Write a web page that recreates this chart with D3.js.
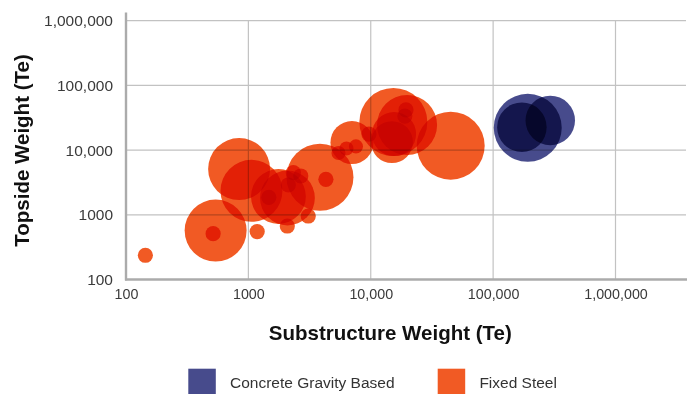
<!DOCTYPE html>
<html>
<head>
<meta charset="utf-8">
<script src="https://cdn.jsdelivr.net/npm/d3@7"></script>
<style>
  html, body { margin: 0; padding: 0; background: #fff; }
  svg { display: block; font-family: "Liberation Sans", Arial, Helvetica, sans-serif; }
  .bubble { mix-blend-mode: multiply; }
</style>
</head>
<body>
<svg id="chart" width="687" height="394"></svg>
<script>
// Axis ticks (log scale, one per decade)
const xTicks = [100, 1000, 10000, 100000, 1000000];
const xTickLabels = ["100", "1000", "10,000", "100,000", "1,000,000"];
const yTicks = [100, 1000, 10000, 100000, 1000000];
const yTickLabels = ["100", "1000", "10,000", "100,000", "1,000,000"];

// Series names
const seriesNames = ["Concrete Gravity Based", "Fixed Steel"];

// Concrete Gravity Based platforms: substructure weight, topside weight, bubble size
const cgbSub  = [191800, 171800, 293000];
const cgbTop  = [22100, 22600, 28700];
const cgbSize = [100, 53, 53];

// Fixed Steel platforms: substructure weight, topside weight, bubble size
const fsSub  = [144, 540, 515, 840, 1060, 1180, 1760, 2085, 1470, 2120, 2330, 2680, 3085, 2080,
                3845, 4300, 7020, 5450, 6330, 7570, 9670, 15300, 19800, 15500, 14900, 19400, 19000, 45000];
const fsTop  = [237, 570, 510, 5100, 2350, 550, 1920, 1820, 1860, 2890, 4470, 3980, 958, 671,
                3800, 3540, 13100, 9020, 10600, 11400, 17700, 27200, 24400, 17700, 13300, 41700, 33600, 11700];
const fsSize = [5, 83, 5, 83, 83, 5, 65, 65, 5, 5, 5, 5, 5, 5,
                97, 5, 40, 4.3, 4.3, 4.3, 5, 100, 78, 42, 38, 5, 5, 100];

const colors = { "Concrete Gravity Based": "#474b8c", "Fixed Steel": "#f15a24" };

const svg = d3.select("#chart");

const plot = { left: 126, right: 686, top: 20.7, bottom: 279.5 };

const x = d3.scaleLog().domain([100, 1000000]).range([plot.left, 615.5]);
const y = d3.scaleLog().domain([100, 1000000]).range([plot.bottom, plot.top]);
const r = d3.scaleSqrt().domain([0, 100]).range([0, 34]);

// Grid lines
const grid = svg.append("g").attr("stroke", "#c2c2c2").attr("stroke-width", 1.2);
grid.selectAll("line.h").data(yTicks.slice(1)).join("line")
  .attr("class", "h")
  .attr("x1", plot.left).attr("x2", plot.right)
  .attr("y1", d => y(d)).attr("y2", d => y(d));
grid.selectAll("line.v").data(xTicks.slice(1)).join("line")
  .attr("class", "v")
  .attr("x1", d => x(d)).attr("x2", d => x(d))
  .attr("y1", plot.top).attr("y2", plot.bottom);

// Axis lines
svg.append("line")
  .attr("x1", plot.left).attr("x2", plot.left)
  .attr("y1", 12.5).attr("y2", plot.bottom + 1)
  .attr("stroke", "#ababab").attr("stroke-width", 2.4);
svg.append("line")
  .attr("x1", plot.left - 1).attr("x2", plot.right + 1)
  .attr("y1", plot.bottom).attr("y2", plot.bottom)
  .attr("stroke", "#ababab").attr("stroke-width", 2.4);

// Tick labels
const yAxis = svg.append("g")
  .attr("transform", `translate(${plot.left},0)`)
  .call(d3.axisLeft(y).tickValues(yTicks).tickFormat((d, i) => yTickLabels[i]).tickSize(0).tickPadding(13));
yAxis.select(".domain").remove();
yAxis.selectAll("text")
  .attr("font-family", "'Liberation Sans', Arial, sans-serif")
  .attr("font-size", "15.5px").attr("fill", "#3a3a3a");

const xAxis = svg.append("g")
  .attr("transform", `translate(0,${plot.bottom})`)
  .call(d3.axisBottom(x).tickValues(xTicks).tickFormat((d, i) => xTickLabels[i]).tickSize(0).tickPadding(9.7));
xAxis.select(".domain").remove();
xAxis.selectAll("text")
  .attr("font-family", "'Liberation Sans', Arial, sans-serif")
  .attr("font-size", "14.3px").attr("fill", "#3a3a3a");

// Bubbles
const points = [];
cgbSub.forEach((v, i) => points.push({ series: seriesNames[0], sub: v, top: cgbTop[i], size: cgbSize[i] }));
fsSub.forEach((v, i) => points.push({ series: seriesNames[1], sub: v, top: fsTop[i], size: fsSize[i] }));
points.sort((a, b) => b.size - a.size);

svg.append("g").selectAll("circle").data(points).join("circle")
  .attr("class", "bubble")
  .attr("cx", d => x(d.sub))
  .attr("cy", d => y(d.top))
  .attr("r", d => r(d.size))
  .attr("fill", d => colors[d.series]);

// Axis titles
svg.append("text")
  .attr("transform", "translate(29,150.5) rotate(-90)")
  .attr("text-anchor", "middle")
  .attr("font-weight", "bold").attr("font-size", "20.5px").attr("fill", "#111")
  .text("Topside Weight (Te)");
svg.append("text")
  .attr("x", 390.3).attr("y", 340.3)
  .attr("text-anchor", "middle")
  .attr("font-weight", "bold").attr("font-size", "20.5px").attr("fill", "#111")
  .text("Substructure Weight (Te)");

// Legend
const legendX = [188.3, 437.7];
const legend = svg.append("g").selectAll("g").data(seriesNames).join("g")
  .attr("transform", (d, i) => `translate(${legendX[i]},368.7)`);
legend.append("rect")
  .attr("width", 27.5).attr("height", 27.5)
  .attr("fill", d => colors[d]);
legend.append("text")
  .attr("x", 41.7).attr("y", 19.8)
  .attr("font-size", "15.5px").attr("fill", "#333")
  .text(d => d);
</script>
</body>
</html>
